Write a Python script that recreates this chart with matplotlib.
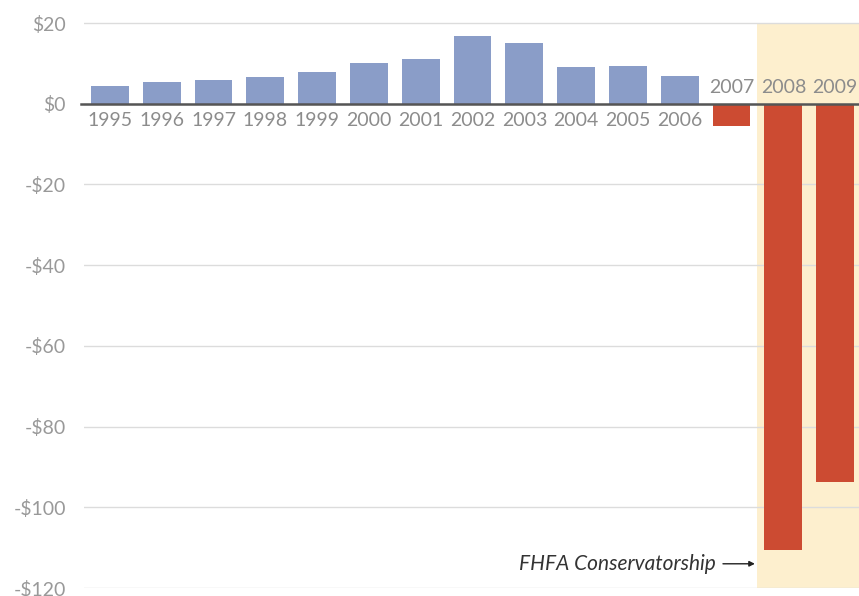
import matplotlib.pyplot as plt

years = [str(y) for y in range(1995, 2010)]
values = [4.3, 5.3, 5.8, 6.5, 7.8, 10.0, 11.0, 16.7, 15.0, 9.0, 9.3, 6.8, -5.5, -110.5, -93.7]
y_ticks = [20, 0, -20, -40, -60, -80, -100, -120]
y_tick_labels = ["$20", "$0", "-$20", "-$40", "-$60", "-$80", "-$100", "-$120"]

plt.rcParams['font.family'] = ['Lato', 'DejaVu Sans']

fig = plt.figure(figsize=(8.59, 5.96), dpi=100)
ax = fig.add_axes([84 / 859, 8 / 596, 1 - 84 / 859, 588 / 596])

x = list(range(len(years)))
colors = ['#8a9dc8' if v >= 0 else '#cc4b32' for v in values]

# conservatorship shading (2008 onward)
ax.fill_between([12.5, 14.6], -120, 20, color='#fdefce', lw=0, zorder=0)

for t in y_ticks:
    ax.axhline(t, color='#dcdcdc', lw=1, zorder=1)

ax.bar(x, values, width=0.73, color=colors, zorder=2)
ax.axhline(0, xmin=-0.004, color='#555555', lw=1.8, zorder=3, clip_on=False)

for xi, yr, v in zip(x, years, values):
    off = -12 if v >= 0 else 12
    ax.annotate(yr, (xi, 0), xytext=(0, off), textcoords='offset points',
                ha='center', va='center', fontsize=14, color='#8c8c8c', zorder=4)

ax.annotate("FHFA Conservatorship", xy=(12.45, -114), xytext=(11.7, -114),
            ha='right', va='center', fontsize=15, style='italic', color='#333333',
            arrowprops=dict(arrowstyle='-|>', color='#222222', lw=1,
                            mutation_scale=8, shrinkA=3, shrinkB=0))

ax.set_xlim(-0.5, 14.46)
ax.set_ylim(-120, 25.7)
ax.set_yticks(y_ticks)
ax.set_yticklabels(y_tick_labels, fontsize=14, color='#999999')
ax.tick_params(axis='y', length=0, pad=13)
ax.set_xticks([])
for s in ax.spines.values():
    s.set_visible(False)

fig.savefig("out.png", dpi=100)
